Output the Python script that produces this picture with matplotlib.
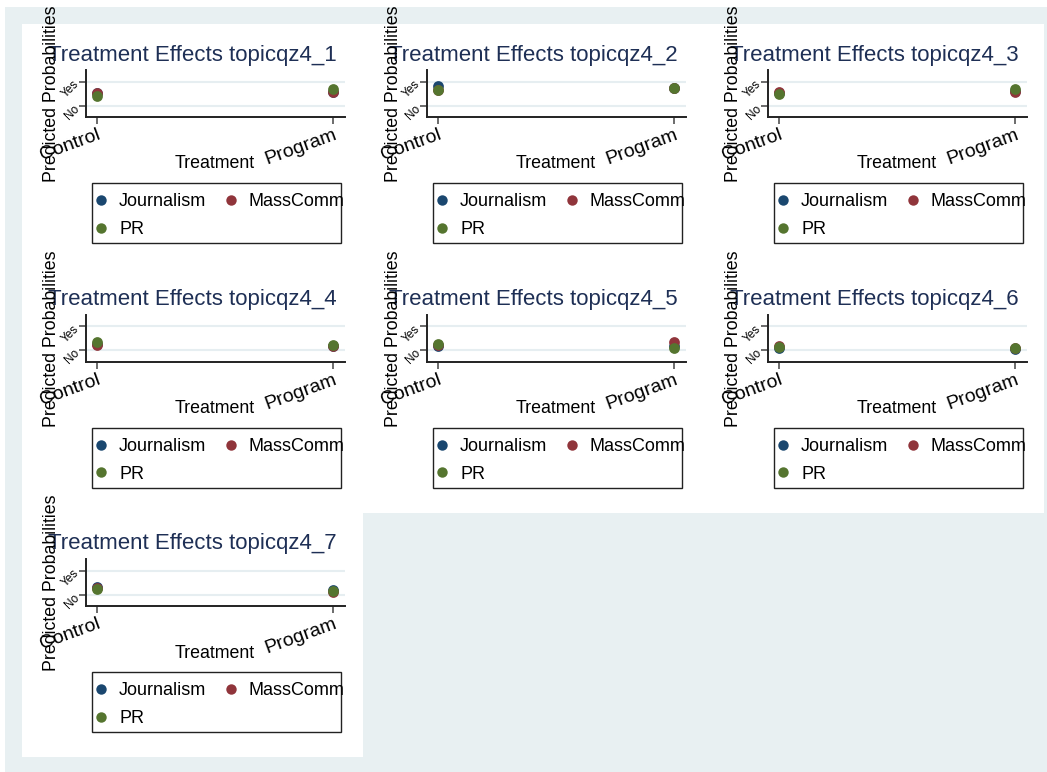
import numpy as np
import matplotlib
matplotlib.use('Agg')
import matplotlib.pyplot as plt
from matplotlib.patches import Rectangle
from matplotlib.lines import Line2D

plt.rcParams['font.family'] = ['Liberation Sans', 'DejaVu Sans']

W, H = 1047, 772

# predicted probabilities, x: 0 = Control, 1 = Program
groups = ['Journalism', 'MassComm', 'PR']
colors = ['#1a476f', '#90353b', '#55752f']
treat_labels = ['Control', 'Program']
topics = ['topicqz4_1', 'topicqz4_2', 'topicqz4_3', 'topicqz4_4',
          'topicqz4_5', 'topicqz4_6', 'topicqz4_7']

journalism = [[0.53, 0.57], [0.80, 0.74], [0.52, 0.62], [0.27, 0.20],
              [0.17, 0.20], [0.09, 0.07], [0.34, 0.22]]
masscomm   = [[0.53, 0.58], [0.64, 0.75], [0.57, 0.57], [0.21, 0.20],
              [0.22, 0.35], [0.20, 0.10], [0.30, 0.12]]
pr         = [[0.39, 0.70], [0.67, 0.73], [0.50, 0.70], [0.33, 0.21],
              [0.27, 0.11], [0.15, 0.08], [0.23, 0.16]]
series = [journalism, masscomm, pr]

fig = plt.figure(figsize=(W / 100, H / 100), dpi=100)
fig.patch.set_facecolor('white')

def frac_rect(x0, y0, x1, y1):
    return [x0 / W, 1 - y1 / H, (x1 - x0) / W, (y1 - y0) / H]

def add_box(x0, y0, x1, y1, color, edge='none', lw=0, z=-10):
    l, b, w, h = frac_rect(x0, y0, x1, y1)
    fig.patches.append(Rectangle((l, b), w, h, transform=fig.transFigure,
                                 facecolor=color, edgecolor=edge, lw=lw, zorder=z))

add_box(5, 7, W, H, '#e8f0f2')
add_box(22, 24, 1044, 513, 'white')
add_box(22, 513, 363, 757, 'white')

DX, DY = 341, 244.5
title_col = '#1e2f55'

for i, topic in enumerate(topics):
    r, c = divmod(i, 3)
    ox, oy = DX * c, DY * r
    ax = fig.add_axes(frac_rect(86 + ox, 70 + oy, 345 + ox, 117 + oy))
    ax.set_facecolor('none')
    for vals, col in zip(series, colors):
        ax.scatter([0, 1], vals[i], s=60, color=col, zorder=3, linewidths=0)
    ax.set_xlim(-0.047, 1.05)
    ax.set_ylim(-0.46, 1.48)
    for yv in (0, 1):
        ax.axhline(yv, color='#e6eef1', lw=1.5, zorder=1)
    for s in ('top', 'right'):
        ax.spines[s].set_visible(False)
    for s in ('left', 'bottom'):
        ax.spines[s].set_color('#222222')
        ax.spines[s].set_linewidth(1.4)
    ax.set_xticks([0, 1])
    ax.set_xticklabels(treat_labels, rotation=20, ha='right',
                       rotation_mode='anchor', fontsize=14)
    ax.set_yticks([0, 1])
    ax.set_yticklabels(['No', 'Yes'], rotation=45, fontsize=8.5,
                       ha='right', rotation_mode='anchor')
    ax.tick_params(axis='both', length=5, width=1.1, color='#444444', pad=2)
    ax.tick_params(axis='y', pad=2)

    # text around each graph
    fig.text((192 + ox) / W, 1 - (55 + oy) / H, 'Treatment Effects ' + topic,
             ha='center', va='center', fontsize=16, color=title_col)
    fig.text((52 + ox) / W, 1 - (94 + oy) / H, 'Predicted Probabilities',
             rotation=90, ha='center', va='center', fontsize=12.8)
    fig.text((215 + ox) / W, 1 - (164 + oy) / H, 'Treatment',
             ha='center', va='center', fontsize=12.8)

    # legend filled row-wise: Journalism, MassComm / PR
    handles = [Line2D([], [], ls='none', marker='o', markersize=7.5,
                      color=col, markeredgewidth=0) for col in colors]
    order = [0, 2, 1]
    fig.legend([handles[k] for k in order], [groups[k] for k in order],
               ncol=2, loc='upper left',
               bbox_to_anchor=((92 + ox) / W, 1 - (188 + oy) / H),
               bbox_transform=fig.transFigure,
               fontsize=13, frameon=False, borderaxespad=0, borderpad=0.3,
               labelspacing=0.6, handlelength=0.4, handletextpad=0.8,
               columnspacing=1.15)
    add_box(92 + ox, 183 + oy, 341 + ox, 243 + oy, 'none',
            edge='#222222', lw=1.0, z=5)

fig.savefig('out.png', dpi=100)
